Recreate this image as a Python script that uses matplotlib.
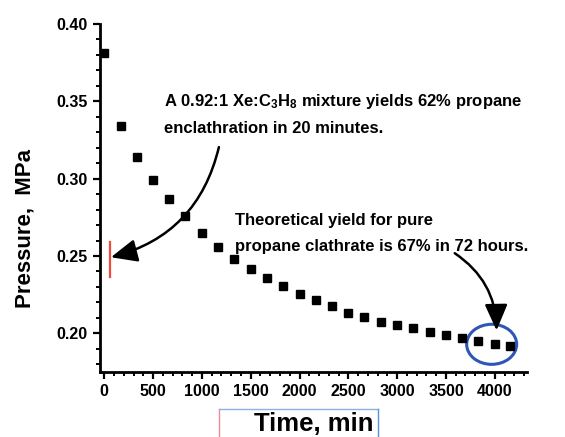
import matplotlib
matplotlib.use("Agg")
import matplotlib.pyplot as plt
from matplotlib.patches import Ellipse, FancyArrowPatch
from matplotlib.lines import Line2D
from matplotlib.ticker import MultipleLocator

time_min = [0, 170, 335, 500, 665, 830, 1000, 1165, 1330, 1500, 1665, 1830, 2000,
            2170, 2335, 2500, 2665, 2835, 3000, 3165, 3335, 3500, 3665, 3830, 4000, 4160]
pressure = [0.381, 0.334, 0.314, 0.299, 0.287, 0.276, 0.265, 0.256, 0.248, 0.2415,
            0.2357, 0.2305, 0.2256, 0.2214, 0.2176, 0.2131, 0.2105, 0.2073, 0.2053,
            0.2034, 0.2008, 0.1989, 0.1970, 0.1950, 0.1931, 0.1918]

x_ticks = [0, 500, 1000, 1500, 2000, 2500, 3000, 3500, 4000]
y_ticks = [0.20, 0.25, 0.30, 0.35, 0.40]

note1_line1 = r"A 0.92:1 Xe:C$_3$H$_8$ mixture yields 62% propane"
note1_line2 = "enclathration in 20 minutes."
note2_line1 = "Theoretical yield for pure"
note2_line2 = "propane clathrate is 67% in 72 hours."

plt.rcParams['font.family'] = ['Liberation Sans', 'DejaVu Sans']
plt.rcParams['font.weight'] = 'bold'
plt.rcParams['mathtext.fontset'] = 'custom'
plt.rcParams['mathtext.rm'] = 'Liberation Sans:bold'
plt.rcParams['mathtext.it'] = 'Liberation Sans:bold'
plt.rcParams['mathtext.default'] = 'rm'

W, H = 565, 437
fig = plt.figure(figsize=(W / 100, H / 100), dpi=100)
ax = fig.add_axes([100 / W, 1 - 372 / H, 427 / W, 348 / H])

ax.plot(time_min, pressure, linestyle='none', marker='s', markersize=6,
        color='black')

ax.set_xlim(-44, 4330)
ax.set_ylim(0.175, 0.40)
ax.set_xticks(x_ticks)
ax.set_xticklabels([str(v) for v in x_ticks])
ax.set_yticks(y_ticks)
ax.set_yticklabels([f"{v:.2f}" for v in y_ticks])
ax.xaxis.set_minor_locator(MultipleLocator(100))
ax.yaxis.set_minor_locator(MultipleLocator(0.01))

for s in ['top', 'right']:
    ax.spines[s].set_visible(False)
for s in ['left', 'bottom']:
    ax.spines[s].set_linewidth(2)
ax.tick_params(which='major', direction='out', length=5, width=1.6,
               labelsize=11.5, pad=4)
ax.tick_params(which='minor', direction='out', length=3, width=1.4)
for lab in ax.get_xticklabels() + ax.get_yticklabels():
    lab.set_fontweight('bold')

# red marker line at 20 min
ax.plot([58, 58], [0.2365, 0.2590], color='#f04a3a', linewidth=1.6)

# blue ellipse
ax.add_patch(Ellipse((3968, 0.1929), 512, 0.0259, fill=False,
                     edgecolor='#2f56b4', linewidth=2.2))

# arrows
arr1 = FancyArrowPatch((1174, 0.3204), (68, 0.2492),
                       connectionstyle="arc3,rad=-0.3",
                       arrowstyle="-|>,head_length=0.8,head_width=0.35",
                       mutation_scale=20, linewidth=1.8, color='black',
                       shrinkA=0, shrinkB=0)
ax.add_patch(arr1)
arr2 = FancyArrowPatch((3590, 0.2518), (4018, 0.2019),
                       connectionstyle="arc3,rad=-0.26",
                       arrowstyle="-|>,head_length=0.8,head_width=0.35",
                       mutation_scale=20, linewidth=1.8, color='black',
                       shrinkA=0, shrinkB=0)
ax.add_patch(arr2)

# annotation texts
fig.text(164 / W, 1 - 106 / H, note1_line1, fontsize=12, fontweight='bold',
         va='baseline', ha='left')
fig.text(164 / W, 1 - 133 / H, note1_line2, fontsize=12, fontweight='bold',
         va='baseline', ha='left')
fig.text(235 / W, 1 - 225 / H, note2_line1, fontsize=12, fontweight='bold',
         va='baseline', ha='left')
fig.text(235 / W, 1 - 251 / H, note2_line2, fontsize=12, fontweight='bold',
         va='baseline', ha='left')

# axis labels
fig.text(25 / W, 1 - 229 / H, "Pressure,  MPa", fontsize=16, fontweight='bold',
         rotation=90, ha='center', va='center')
fig.text(314 / W, 1 - 431 / H, "Time, min", fontsize=18.5, fontweight='bold',
         ha='center', va='baseline')

# box around x label
fig.add_artist(Line2D([219 / W, 219 / W], [1 - 409 / H, 0], color='#e98a9a',
                      linewidth=1.0, transform=fig.transFigure))
fig.add_artist(Line2D([219 / W, 378 / W], [1 - 409 / H, 1 - 409 / H],
                      color='#8fb0e0', linewidth=1.0, transform=fig.transFigure))
fig.add_artist(Line2D([378 / W, 378 / W], [1 - 409 / H, 0], color='#5b8fe0',
                      linewidth=1.0, transform=fig.transFigure))

fig.savefig("out.png", dpi=100)
